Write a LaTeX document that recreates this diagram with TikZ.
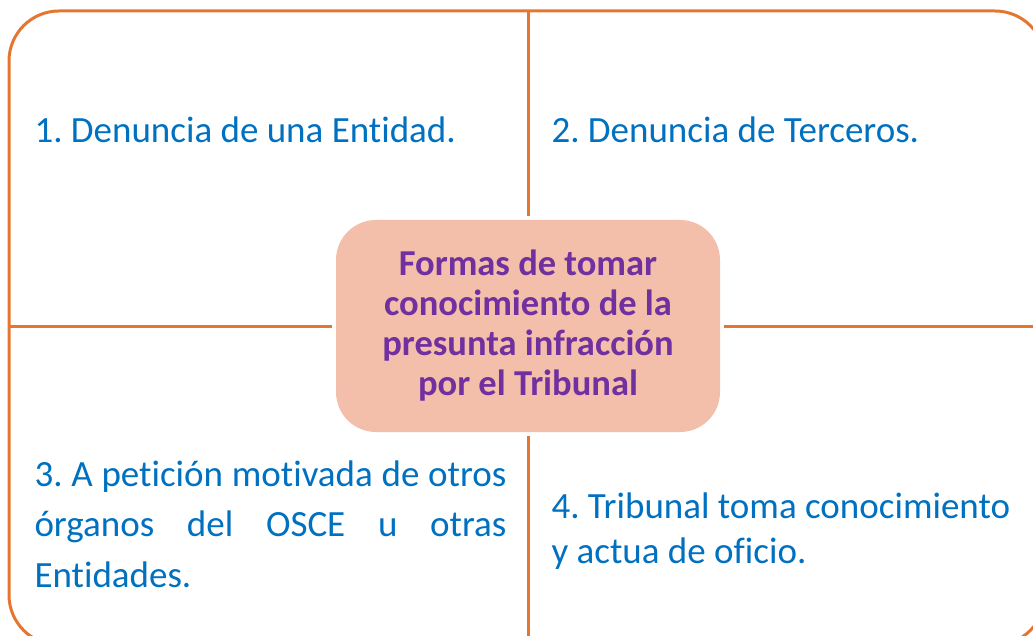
\documentclass[tikz,border=0pt]{standalone}
\usepackage{fontspec}
\setmainfont{Carlito}[Ligatures=NoCommon]
\frenchspacing
\usetikzlibrary{positioning}
\definecolor{lineorange}{HTML}{E5762F}
\definecolor{boxfill}{HTML}{F3BEAA}
\definecolor{titlepurple}{HTML}{7030A0}
\definecolor{itemblue}{HTML}{0070C0}

\begin{document}
\begin{tikzpicture}[x=1pt, y=-1pt, line width=3pt, draw=lineorange]
    \tikzstyle{frame}=[draw=lineorange, rectangle, rounded corners=50pt, minimum width=1036pt, minimum height=634pt, inner sep=0pt, outer sep=0pt]
    \tikzstyle{titlebox}=[rectangle, fill=boxfill, rounded corners=40pt, minimum width=384pt, minimum height=212pt, inner sep=0pt, outer sep=4pt, align=center, text=titlepurple, font=\fontsize{36.5}{40}\selectfont\bfseries]
    \tikzstyle{entry}=[inner sep=0pt, text=itemblue, font=\fontsize{37}{45}\selectfont]

    \useasboundingbox (0,0) rectangle (1033,636);

    \node[frame] (frame) at (527,328) {};
    \node[titlebox] (title) at (528,326) {Formas de tomar\\conocimiento de la\\presunta infracción\\por el Tribunal};

    \draw (frame.north -| title) -- (title.north);
    \draw (title.south) -- (frame.south -| title);
    \draw (frame.west |- title) -- (title.west);
    \draw (title.east) -- (frame.east |- title);

    \node[entry, anchor=base west] (first) at (33,143) {1. Denuncia de una Entidad.};
    \node[entry, anchor=base west] (second) at (550,143) {2. Denuncia de Terceros.};
    \node[entry, anchor=north west, text width=472pt, align=justify, font=\fontsize{37}{50.5}\selectfont] (third) at (33,459) {3. A petición motivada de otros\linebreak órganos del OSCE u otras\linebreak Entidades.};
    \node[entry, anchor=north west, align=left] (fourth) at (550,491) {4. Tribunal toma conocimiento\\y actua de oficio.};
\end{tikzpicture}
\end{document}
